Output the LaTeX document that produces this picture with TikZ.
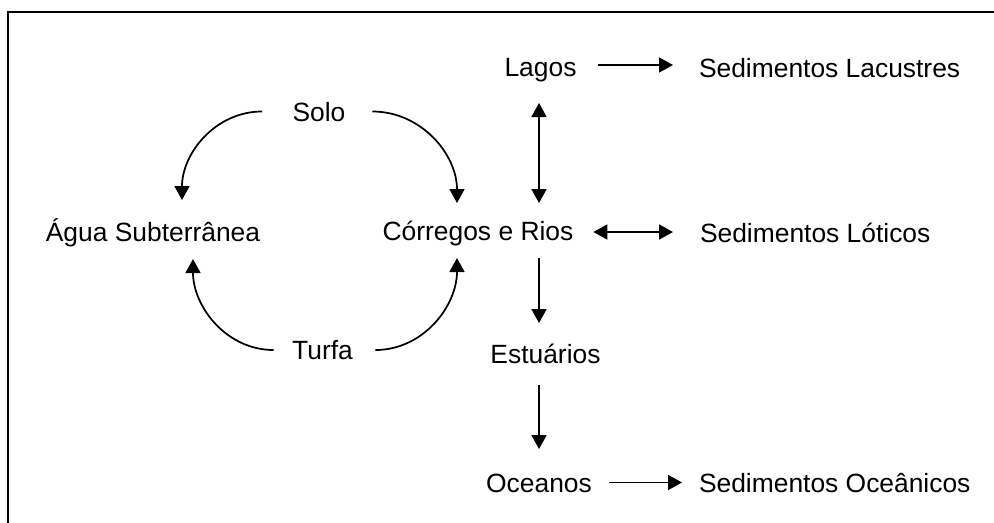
\documentclass[tikz,border=0pt]{standalone}
\usepackage{fontspec}
\setmainfont{Liberation Sans}
\usetikzlibrary{arrows.meta}
\begin{document}
\begin{tikzpicture}[x=0.75pt,y=-0.75pt,
  lbl/.style={inner sep=0pt, outer sep=0pt, text height=14.25pt, text depth=0pt,
              font=\fontsize{19.8pt}{24pt}\selectfont},
  tipshape/.tip={Triangle[length=10.5pt,width=11.25pt]},
  conn/.style={line width=1.3pt, -tipshape},
  conntwo/.style={line width=1.3pt, tipshape-tipshape}]
\useasboundingbox (0,0) rectangle (994,522);
\clip (0,0) rectangle (994,522);
% frame (right and bottom sides cut off)
\draw[line width=1.3pt] (8.2,600) -- (8.2,12) -- (1100,12);

% nodes
\node[lbl] (solo)   at (319,111.5)   {Solo};
\node[lbl] (agua)   at (153,231.5)   {Água Subterrânea};
\node[lbl] (corr)   at (478,230.5)   {Córregos e Rios};
\node[lbl] (turfa)  at (322.5,350)   {Turfa};
\node[lbl] (lagos)  at (540.5,66.5)  {Lagos};
\node[lbl] (estu)   at (545.5,353.5) {Estuários};
\node[lbl] (ocea)   at (539,482.5)   {Oceanos};
\node[lbl,anchor=west] (sedlac) at (699,67.5)  {Sedimentos Lacustres};
\node[lbl,anchor=west] (sedlot) at (700,232.5) {Sedimentos Lóticos};
\node[lbl,anchor=west] (sedoce) at (699,482.5) {Sedimentos Oceânicos};

% curved connectors
\draw[conn] ([shift={(-30.5,0)}]solo.west) to[out=180,in=90] ([shift={(29,-22)}]agua.north);
\draw[conn] ([shift={(27,0)}]solo.east) to[out=0,in=90] ([shift={(-21,-18)}]corr.north);
\draw[conn] ([shift={(-18.5,0)}]turfa.west) to[out=180,in=-90] ([shift={(40,18)}]agua.south);
\draw[conn] ([shift={(22.5,0)}]turfa.east) to[out=0,in=-90] ([shift={(-21,18)}]corr.south);

% straight connectors
\coordinate (vx) at ([shift={(-1.5,0)}]lagos.south);
\draw[conn] ([shift={(22,-1.5)}]lagos.east) -- ([shift={(-26,-2.5)}]sedlac.west);
\draw[conntwo] ([shift={(0,27)}]vx) -- ([shift={(0,-18)}]vx |- corr.north);
\draw[conntwo] ([shift={(20,1.5)}]corr.east) -- ([shift={(-27,-0.5)}]sedlot.west);
\draw[conn] ([shift={(0,18)}]vx |- corr.south) -- ([shift={(0,-21)}]vx |- estu.north);
\draw[conn] ([shift={(0,22)}]vx |- estu.south) -- ([shift={(0,-24)}]vx |- ocea.north);
\draw[conn] ([shift={(17,0)}]ocea.east) -- ([shift={(-17,0)}]sedoce.west);
\end{tikzpicture}
\end{document}
